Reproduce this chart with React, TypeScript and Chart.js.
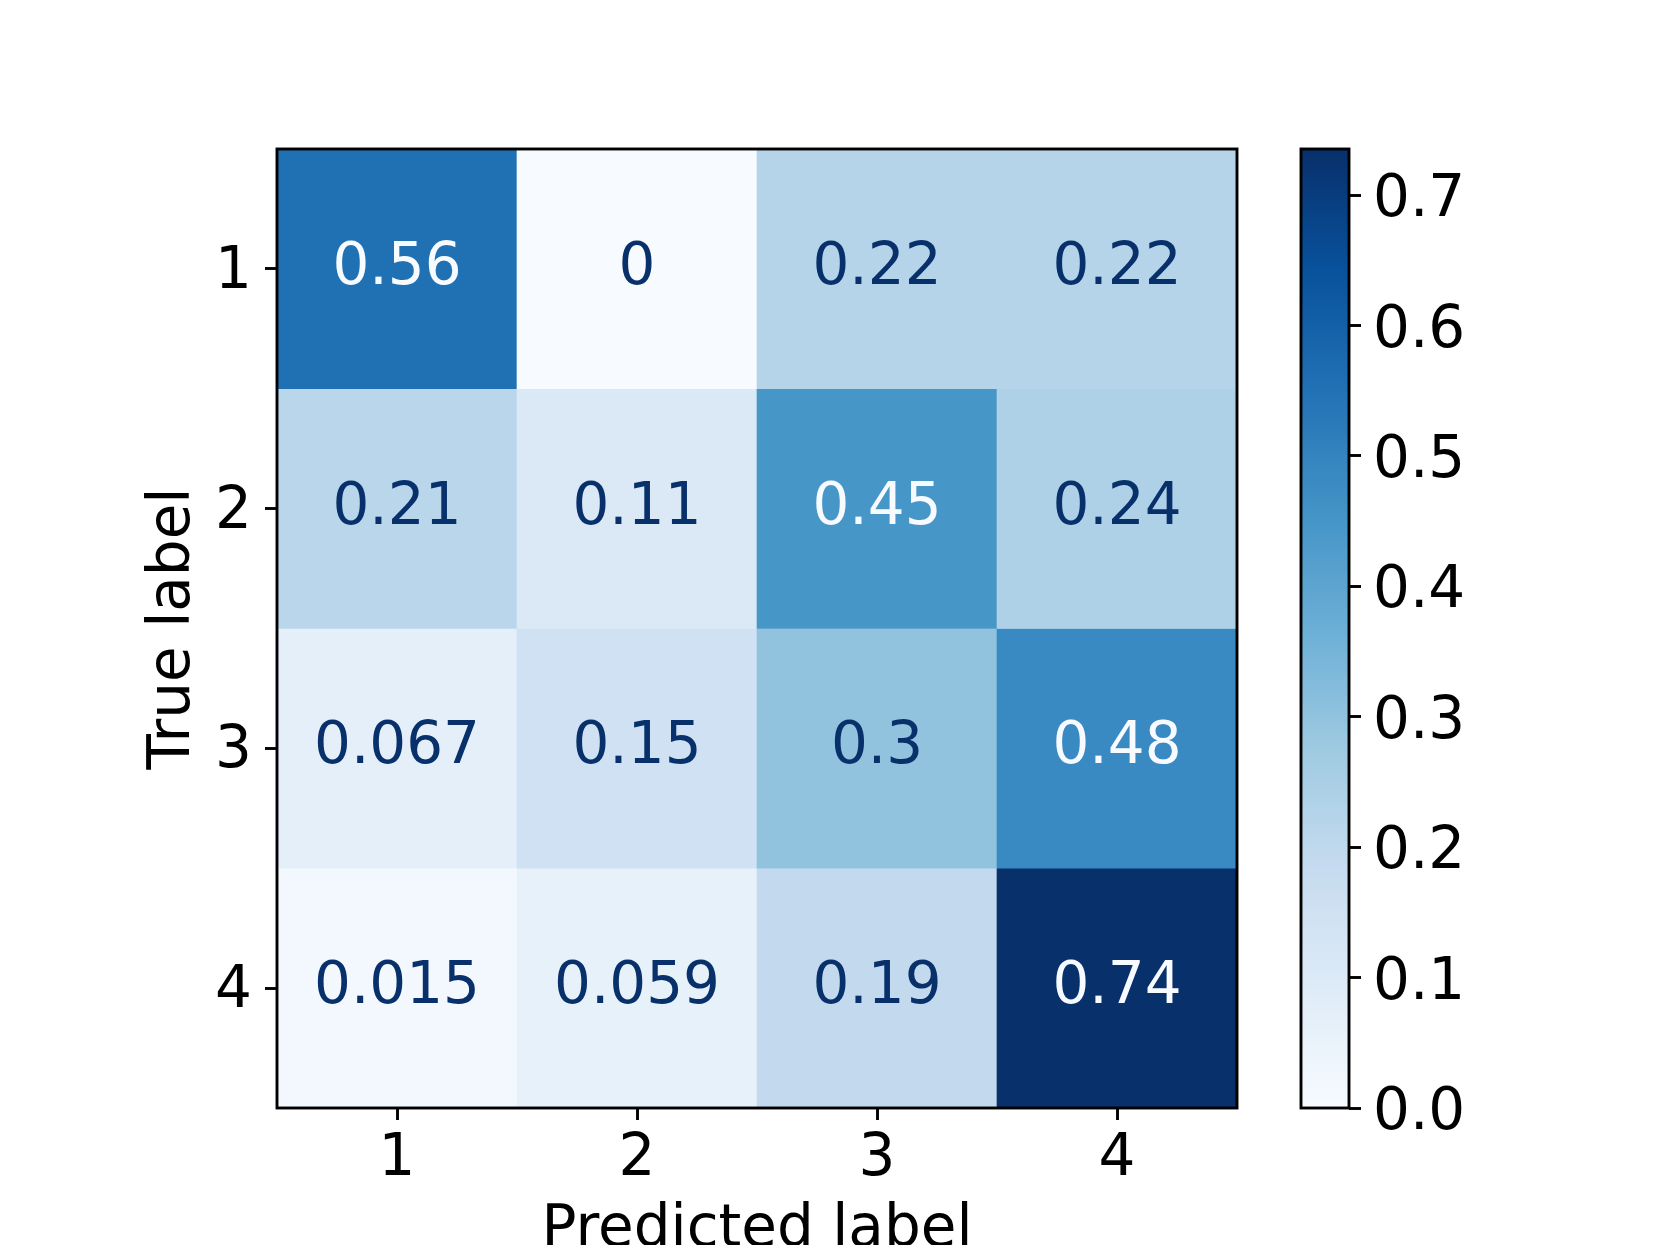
import React, { useEffect, useRef } from "react";
import { Chart, registerables } from "chart.js";

Chart.register(...registerables);

// ---- data ----
const predictedLabels = ["1", "2", "3", "4"];
const trueLabels = ["1", "2", "3", "4"];
const row1 = [0.5556, 0, 0.2222, 0.2222];
const row2 = [0.2105, 0.1053, 0.4474, 0.2368];
const row3 = [0.0667, 0.15, 0.3, 0.4833];
const row4 = [0.0147, 0.0588, 0.1912, 0.7353];
const matrixRows = [row1, row2, row3, row4];
const colorbarTicks = [0, 0.1, 0.2, 0.3, 0.4, 0.5, 0.6, 0.7];

// matplotlib "Blues" colormap anchors
const BLUES = [
  [247, 251, 255],
  [222, 235, 247],
  [198, 219, 239],
  [158, 202, 225],
  [107, 174, 214],
  [66, 146, 198],
  [33, 113, 181],
  [8, 81, 156],
  [8, 48, 107],
];

const FONT = "DejaVu Sans";
const FS = 58;

const allVals = matrixRows.flat();
const vmin = Math.min(...allVals);
const vmax = Math.max(...allVals);

function blues(t: number): string {
  const tt = Math.max(0, Math.min(1, t)) * (BLUES.length - 1);
  const i = Math.min(BLUES.length - 2, Math.floor(tt));
  const f = tt - i;
  const a = BLUES[i];
  const b = BLUES[i + 1];
  const c = a.map((v, k) => Math.round(v + (b[k] - v) * f));
  return `rgb(${c[0]},${c[1]},${c[2]})`;
}
const norm = (v: number) => (v - vmin) / (vmax - vmin);
const fmt = (v: number) => String(Number(v.toPrecision(2)));

const framePlugin = {
  id: "frame",
  afterDraw(chart: any) {
    const { ctx, chartArea } = chart;
    ctx.save();
    ctx.strokeStyle = "#000";
    ctx.lineWidth = 2.9;
    ctx.strokeRect(chartArea.left, chartArea.top, chartArea.right - chartArea.left, chartArea.bottom - chartArea.top);
    ctx.restore();
  },
};

const cellTextPlugin = {
  id: "cellText",
  afterDatasetsDraw(chart: any) {
    const { ctx } = chart;
    const thresh = (vmax + vmin) / 2;
    ctx.save();
    ctx.font = `${FS}px "${FONT}"`;
    ctx.textAlign = "center";
    ctx.textBaseline = "middle";
    matrixRows.forEach((row, r) => {
      const meta = chart.getDatasetMeta(r);
      meta.data.forEach((el: any, c: number) => {
        const p = el.getCenterPoint();
        const v = row[c];
        ctx.fillStyle = v > thresh ? blues(0) : blues(1);
        ctx.fillText(fmt(v), p.x, p.y);
      });
    });
    ctx.restore();
  },
};

export default function App() {
  const mainRef = useRef<HTMLCanvasElement>(null);
  const cbRef = useRef<HTMLCanvasElement>(null);

  useEffect(() => {
    const tickFont = { family: FONT, size: FS };
    const datasets = matrixRows.map((row, r) => ({
      label: trueLabels[r],
      data: row.map(() => [r + 0.5, r + 1.5]),
      backgroundColor: row.map((v) => blues(norm(v))),
      borderWidth: 0,
      barPercentage: 1,
      categoryPercentage: 1,
      grouped: false,
    }));

    const main = new Chart(mainRef.current!, {
      type: "bar",
      data: { labels: predictedLabels, datasets: datasets as any },
      options: {
        animation: false,
        responsive: false,
        maintainAspectRatio: false,
        layout: { padding: { left: 0, top: 149, right: 423, bottom: 0 } },
        plugins: { legend: { display: false }, tooltip: { enabled: false } },
        scales: {
          x: {
            type: "category",
            offset: true,
            grid: { drawOnChartArea: false, drawTicks: true, tickLength: 12, tickWidth: 2.9, tickColor: "#000", offset: false },
            border: { display: false },
            ticks: { font: tickFont, color: "#000", padding: 5, maxRotation: 0 },
            title: { display: true, text: "Predicted label", font: tickFont, color: "#000", padding: { top: 0, bottom: 34 } },
            afterFit: (axis: any) => { axis.height = 192; },
          },
          y: {
            type: "linear",
            reverse: true,
            min: 0.5,
            max: 4.5,
            grid: { drawOnChartArea: false, drawTicks: true, tickLength: 12, tickWidth: 2.9, tickColor: "#000" },
            border: { display: false },
            afterBuildTicks: (axis: any) => {
              axis.ticks = trueLabels.map((_, i) => ({ value: i + 1 }));
            },
            ticks: {
              font: tickFont,
              color: "#000",
              padding: 13,
              labelOffset: 4,
              callback: (_v: any, i: number) => trueLabels[i],
            },
            title: { display: true, text: "True label", font: tickFont, color: "#000", padding: { top: 139, bottom: 0 } },
            afterFit: (axis: any) => { axis.width = 277; },
          },
        },
      },
      plugins: [cellTextPlugin, framePlugin],
    });

    const cb = new Chart(cbRef.current!, {
      type: "bar",
      data: {
        labels: [""],
        datasets: [
          {
            data: [[vmin, vmax]] as any,
            borderWidth: 0,
            barPercentage: 1,
            categoryPercentage: 1,
            backgroundColor: (ctx: any) => {
              const chart = ctx.chart;
              const ys = chart.scales?.y;
              if (!chart.chartArea || !ys) return blues(0.5);
              const y0 = ys.getPixelForValue(vmin);
              const y1 = ys.getPixelForValue(vmax);
              const g = chart.ctx.createLinearGradient(0, y0, 0, y1);
              for (let i = 0; i <= 64; i++) g.addColorStop(i / 64, blues(i / 64));
              return g;
            },
          },
        ],
      },
      options: {
        animation: false,
        responsive: false,
        maintainAspectRatio: false,
        layout: { padding: { left: 51, top: 149, right: 0, bottom: 137 } },
        plugins: { legend: { display: false }, tooltip: { enabled: false } },
        scales: {
          x: { display: false },
          y: {
            type: "linear",
            position: "right",
            min: vmin,
            max: vmax,
            grid: { drawOnChartArea: false, drawTicks: true, tickLength: 12, tickWidth: 2.9, tickColor: "#000" },
            border: { display: false },
            afterBuildTicks: (axis: any) => {
              axis.ticks = colorbarTicks.map((v) => ({ value: v }));
            },
            ticks: {
              font: tickFont,
              color: "#000",
              padding: 12,
              labelOffset: 6,
              callback: (v: any) => Number(v).toFixed(1),
            },
            afterFit: (axis: any) => { axis.width = 311; },
          },
        },
      },
      plugins: [framePlugin],
    });

    return () => {
      main.destroy();
      cb.destroy();
    };
  }, []);

  return (
    <div style={{ position: "fixed", left: 0, top: 0, width: 1660, height: 1245, overflow: "hidden", background: "#fff" }}>
      <canvas ref={mainRef} width={1660} height={1300} style={{ position: "absolute", left: 0, top: 0, width: 1660, height: 1300 }} />
      <canvas ref={cbRef} width={410} height={1245} style={{ position: "absolute", left: 1250, top: 0, width: 410, height: 1245 }} />
    </div>
  );
}
